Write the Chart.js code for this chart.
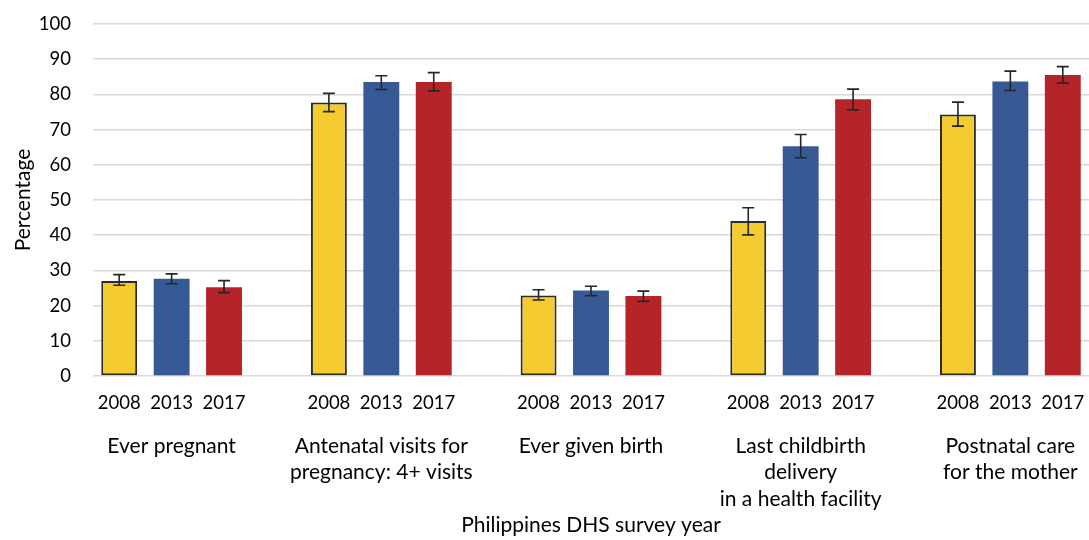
<!DOCTYPE html>
<html><head><meta charset="utf-8">
<script src="https://cdn.jsdelivr.net/npm/chart.js@4"></script>
<style>html,body{margin:0;padding:0;background:#fff}</style>
</head><body>
<canvas id="c" width="1089" height="540"></canvas>
<script>
const years = ['2008', '2013', '2017'];
const groupLabels = [
  ['Ever pregnant'],
  ['Antenatal visits for', 'pregnancy: 4+ visits'],
  ['Ever given birth'],
  ['Last childbirth', 'delivery', 'in a health facility'],
  ['Postnatal care', 'for the mother']
];
const pct2008 = [27.0, 77.7, 22.9, 44.0, 74.3];
const pct2013 = [27.6, 83.5, 24.3, 65.3, 83.7];
const pct2017 = [25.2, 83.5, 22.7, 78.6, 85.5];
const low2008 = [25.8, 75.1, 21.6, 40.1, 71.0];
const high2008 = [28.8, 80.3, 24.5, 47.8, 77.8];
const low2013 = [26.2, 81.4, 22.8, 62.0, 81.1];
const high2013 = [29.0, 85.3, 25.5, 68.6, 86.6];
const low2017 = [23.7, 81.0, 21.2, 75.6, 83.2];
const high2017 = [27.1, 86.2, 24.1, 81.5, 87.9];
const xTitle = 'Philippines DHS survey year';
const yTitle = 'Percentage';

const yearColors = ['#F4CC2F', '#375A94', '#B52428'];
const series = [pct2008, pct2013, pct2017];
const lows = [low2008, low2013, low2017];
const highs = [high2008, high2013, high2017];

// Build slots: 3 bars per group + 1 blank slot between groups
const slotLabels = [], groupSlotLabels = [], values = [], errLow = [], errHigh = [], colors = [], borderW = [];
groupLabels.forEach((g, gi) => {
  for (let k = 0; k < 3; k++) {
    slotLabels.push(years[k]);
    groupSlotLabels.push(k === 1 ? g : '');
    values.push(series[k][gi]);
    errLow.push(lows[k][gi]);
    errHigh.push(highs[k][gi]);
    colors.push(yearColors[k]);
    borderW.push(k === 0 ? 2 : 0);
  }
  if (gi < groupLabels.length - 1) {
    slotLabels.push('');
    groupSlotLabels.push('');
    values.push(null);
    errLow.push(null);
    errHigh.push(null);
    colors.push('rgba(0,0,0,0)');
    borderW.push(0);
  }
});

const errorBars = {
  id: 'errorBars',
  afterDatasetsDraw(chart) {
    const meta = chart.getDatasetMeta(0);
    const ys = chart.scales.y;
    const ctx = chart.ctx;
    ctx.save();
    ctx.strokeStyle = '#262626';
    ctx.lineWidth = 1.6;
    meta.data.forEach((bar, i) => {
      if (errLow[i] == null) return;
      const x = bar.x;
      const yl = ys.getPixelForValue(errLow[i]);
      const yh = ys.getPixelForValue(errHigh[i]);
      const cw = 6;
      ctx.beginPath();
      ctx.moveTo(x, yl); ctx.lineTo(x, yh);
      ctx.moveTo(x - cw, yl); ctx.lineTo(x + cw, yl);
      ctx.moveTo(x - cw, yh); ctx.lineTo(x + cw, yh);
      ctx.stroke();
    });
    ctx.restore();
  }
};

const tickFont = { family: 'Lato', size: 18.5 };
const textFont = { family: 'Lato', size: 21 };

new Chart(document.getElementById('c'), {
  type: 'bar',
  data: {
    labels: slotLabels,
    datasets: [{
      data: values,
      backgroundColor: colors,
      borderColor: '#2b2b2b',
      borderWidth: borderW,
      borderSkipped: false,
      barPercentage: 0.685,
      categoryPercentage: 1.0
    }]
  },
  options: {
    responsive: false,
    animation: false,
    layout: { padding: { top: 24, right: 0, left: 0, bottom: 0 } },
    plugins: { legend: { display: false }, tooltip: { enabled: false } },
    scales: {
      y: {
        min: 0, max: 100,
        ticks: { stepSize: 10, color: '#000', font: tickFont, padding: 22 },
        grid: { color: '#d9d9d9', lineWidth: 1.5, drawTicks: false },
        border: { display: false },
        title: { display: true, text: yTitle, color: '#000', font: textFont, padding: { top: 11, bottom: 0 } },
        afterFit(scale) { scale.width = 93; scale.paddingTop = 0; scale.paddingBottom = 0; }
      },
      x: {
        weight: 0,
        ticks: { color: '#000', font: tickFont, padding: 16, autoSkip: false, maxRotation: 0 },
        grid: { display: false, drawTicks: false },
        border: { display: false },
        afterFit(scale) { scale.height = 38; scale.paddingLeft = 0; scale.paddingRight = 0; }
      },
      x2: {
        type: 'category',
        position: 'bottom',
        weight: 1,
        offset: true,
        labels: groupSlotLabels,
        ticks: { color: '#000', font: { family: 'Lato', size: 21, lineHeight: 1.26 }, padding: 19, autoSkip: false, maxRotation: 0 },
        grid: { display: false, drawTicks: false },
        border: { display: false },
        title: { display: true, text: xTitle, color: '#000', font: textFont, padding: { top: 0, bottom: 2 } },
        afterFit(scale) { scale.height = 126; scale.paddingLeft = 0; scale.paddingRight = 0; }
      }
    }
  },
  plugins: [errorBars]
});
</script>
</body></html>
